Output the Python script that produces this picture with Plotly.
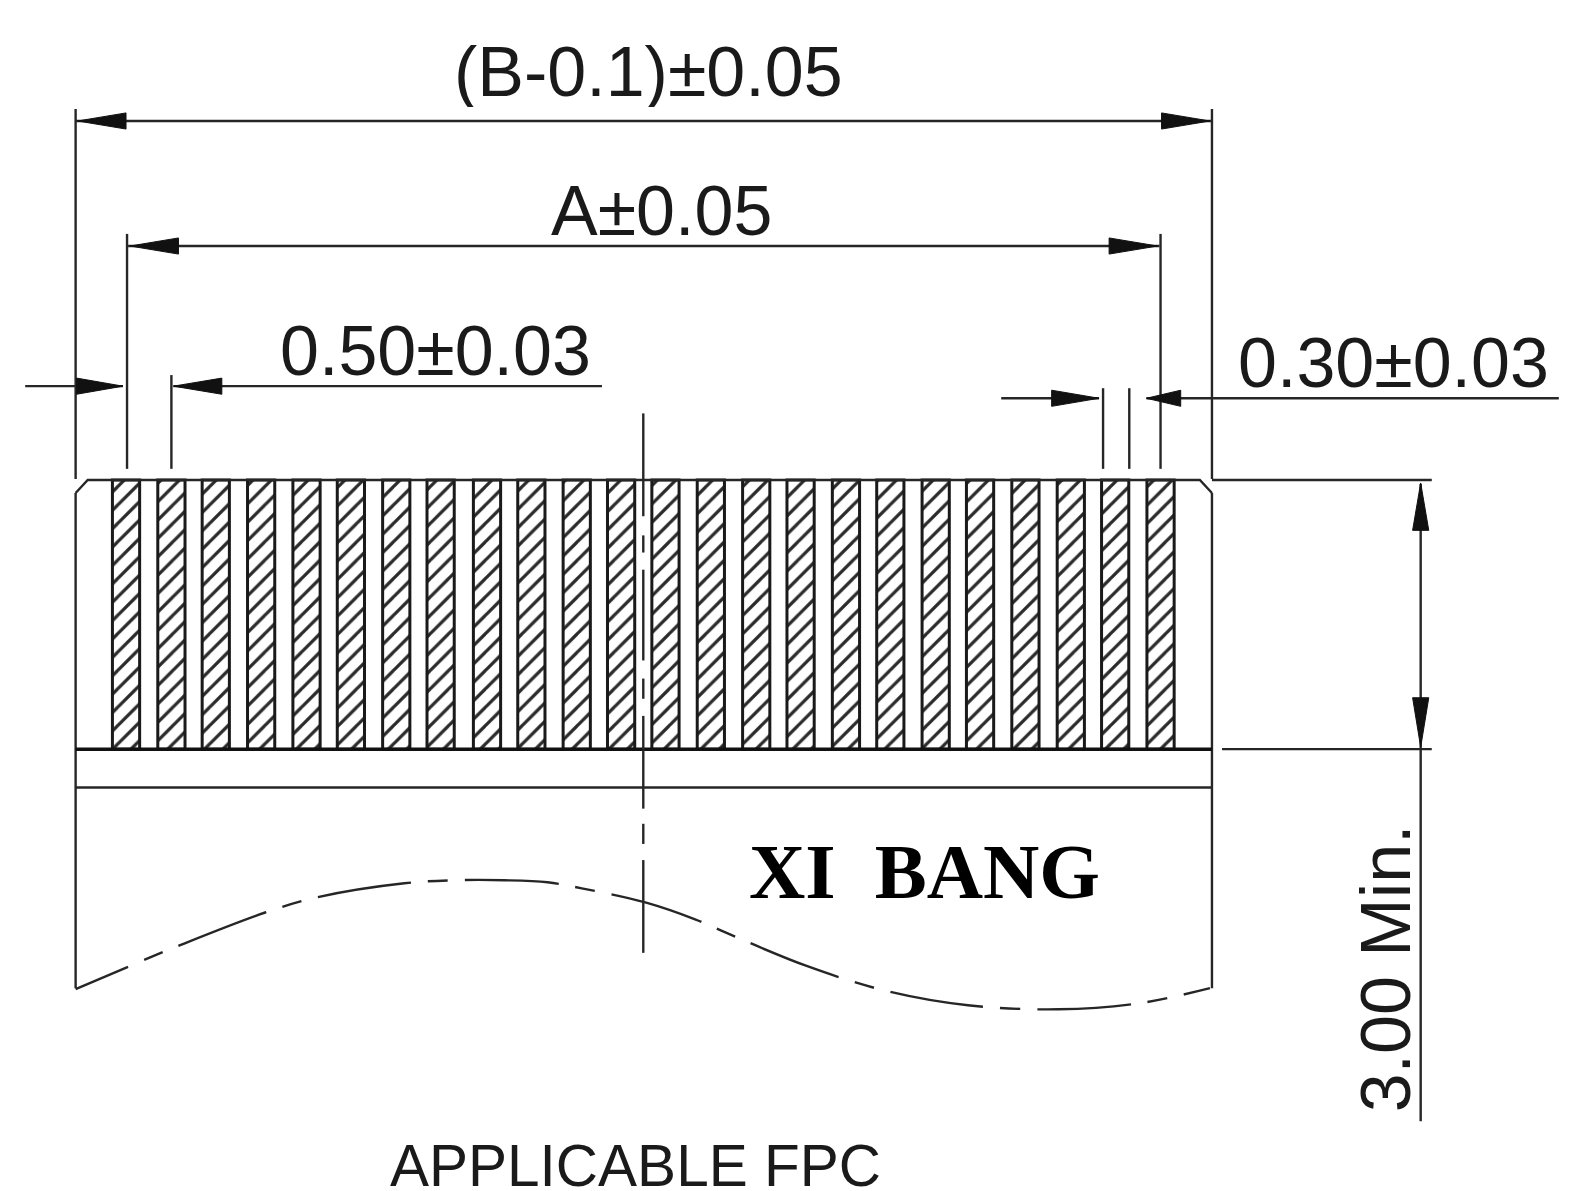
import plotly.graph_objects as go

INK = "#262626"
# Terminal pads (hatched bars)
pad_centers = [125, 170, 214, 259, 304, 348, 393, 437, 483, 527, 572, 616,
               660, 705, 750, 794, 839, 883, 928, 972, 1017, 1062, 1106, 1151]
pad_top = 476
pad_height = 267
pad_width = 27

# Straight lines: x1, y1, x2, y2
thin_lines = [
    (75, 108, 75, 475), (1202, 108, 1202, 475),
    (75, 120, 1202, 120), (126, 232, 126, 465), (1151, 232, 1151, 465),
    (127, 244, 1150, 244), (170, 372, 170, 465),
    (25, 383, 122, 383), (172, 383, 597, 383),
    (993, 395, 1090, 395), (1137, 395, 1546, 395),
    (1094, 385, 1094, 465), (1120, 385, 1120, 465),
    (1202, 476, 1420, 476), (1212, 743, 1420, 743),
    (1409, 480, 1409, 1112),
    (75, 489, 75, 980), (1202, 489, 1202, 980),
    (75, 781, 1202, 781),
]
outline_top_x = [75, 87, 1190, 1202]
outline_top_y = [489, 476, 476, 489]
bottom_edge = (75, 743, 1202, 743)

# Centre line segments: y start, y end at x = 638
center_x = 638
center_segments = [(410, 512), (531, 548), (565, 655), (673, 693), (710, 802), (817, 837), (853, 945)]

# Wavy break line
wave_start_x = [75, 127]
wave_start_y = [981, 959]
wave_x = [143, 177, 263, 314, 401, 452, 500, 543, 577, 640, 690, 720, 800, 880, 960, 1050, 1130, 1200]
wave_y = [952, 938, 905, 890, 876, 873, 873, 875, 881, 895, 912, 925, 958, 983, 997, 1001, 995, 980]

# Arrowheads: tip x, tip y, base x, base y
arrows = [
    (77, 120, 125, 120), (1200, 120, 1152, 120),
    (129, 244, 177, 244), (1148, 244, 1100, 244),
    (122, 383, 76, 383), (172, 383, 220, 383),
    (1090, 395, 1043, 395), (1137, 395, 1171, 395),
    (1409, 479, 1409, 526), (1409, 741, 1409, 692),
]

# Labels: text, x, y, size, angle, family, weight
labels = [
    ("(B-0.1)±0.05", 643, 71, 70, 0, "Liberation Sans", "normal"),
    ("A±0.05", 656, 209, 70, 0, "Liberation Sans", "normal"),
    ("0.50±0.03", 432, 348, 70, 0, "Liberation Sans", "normal"),
    ("0.30±0.03", 1382, 360, 70, 0, "Liberation Sans", "normal"),
    ("3.00 Min.", 1375, 960, 70, -90, "Liberation Sans", "normal"),
    ("APPLICABLE FPC", 630, 1155, 58.5, 0, "Liberation Sans", "normal"),
    ("XI\u00a0\u00a0BANG", 917, 864, 78, 0, "Liberation Serif", "bold"),
]

fig = go.Figure()

fig.add_trace(go.Bar(
    x=pad_centers, y=[pad_height] * len(pad_centers), base=pad_top, width=pad_width,
    marker=dict(color="white", line=dict(color="#1a1a1a", width=3),
                pattern=dict(shape="/", size=13, solidity=0.25, fgcolor="#2a2a2a", bgcolor="white",
                             fgopacity=1)),
))


def segments(items):
    xs, ys = [], []
    for x1, y1, x2, y2 in items:
        xs += [x1, x2, None]
        ys += [y1, y2, None]
    return xs, ys


xs, ys = segments(thin_lines)
fig.add_trace(go.Scatter(x=xs, y=ys, mode="lines", line=dict(color=INK, width=2.4)))
fig.add_trace(go.Scatter(x=outline_top_x, y=outline_top_y, mode="lines", line=dict(color=INK, width=2.4)))
xs, ys = segments([bottom_edge])
fig.add_trace(go.Scatter(x=xs, y=ys, mode="lines", line=dict(color="#111111", width=3.5)))
xs, ys = segments([(center_x, a, center_x, b) for a, b in center_segments])
fig.add_trace(go.Scatter(x=xs, y=ys, mode="lines", line=dict(color=INK, width=2.4)))
fig.add_trace(go.Scatter(x=wave_start_x, y=wave_start_y, mode="lines", line=dict(color=INK, width=2.4)))
fig.add_trace(go.Scatter(x=wave_x, y=wave_y, mode="lines",
                         line=dict(color=INK, width=2.4, shape="spline", dash="20px,17px,94px,17px")))

for tx, ty, bx, by in arrows:
    hw = 8
    if ty == by:
        px, py = [tx, bx, bx, tx], [ty, ty - hw, ty + hw, ty]
    else:
        px, py = [tx, tx - hw, tx + hw, tx], [ty, by, by, ty]
    fig.add_trace(go.Scatter(x=px, y=py, mode="lines", fill="toself", fillcolor="#111111",
                             line=dict(color="#111111", width=1)))

for text, x, y, size, angle, family, weight in labels:
    fig.add_annotation(x=x, y=y, text=text, showarrow=False, textangle=angle,
                       xanchor="center", yanchor="middle", height=round(size) if angle == 0 else None,
                       font=dict(size=size, family=family, weight=weight,
                                 color="#000000" if weight == "bold" else "#1a1a1a"))

# The page keeps its 8 px body margin; the figure fills the window from there.
fig.update_layout(
    width=1573, height=1183, margin=dict(l=0, r=0, t=0, b=0),
    paper_bgcolor="white", plot_bgcolor="white", showlegend=False,
    xaxis=dict(range=[7.94, 1568], visible=False),
    yaxis=dict(range=[1181.2, 7.94], visible=False),
)
fig.write_html("out.html")
